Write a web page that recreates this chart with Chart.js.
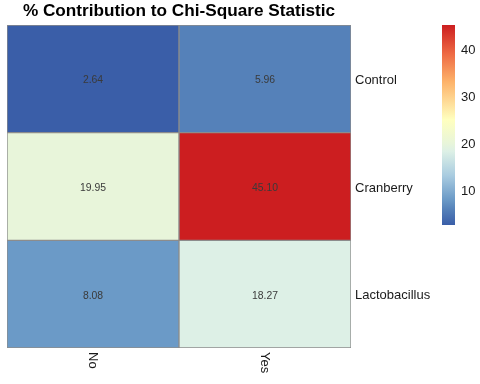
<!DOCTYPE html>
<html><head><meta charset="utf-8">
<script src="https://cdn.jsdelivr.net/npm/chart.js@4/dist/chart.umd.min.js"></script>
<style>html,body{margin:0;padding:0;background:#fff}#wrap{width:480px;height:384px}</style>
</head><body><div id="wrap"><canvas id="c" width="480" height="384"></canvas></div>
<script>
const columns = ['No', 'Yes'];
const rows = ['Control', 'Cranberry', 'Lactobacillus'];
const controlVals = [2.64, 5.96];
const cranberryVals = [19.95, 45.10];
const lactoVals = [8.08, 18.27];
const legendTicks = [10, 20, 30, 40];
const titleText = '% Contribution to Chi-Square Statistic';

const rowVals = [controlVals, cranberryVals, lactoVals];
const allVals = rowVals.flat();
const vMin = Math.min(...allVals), vMax = Math.max(...allVals);

const stops = [
  [0.00, [58, 94, 168]],
  [0.078, [85, 129, 185]],
  [0.128, [107, 154, 199]],
  [0.245, [168, 203, 224]],
  [0.368, [221, 240, 230]],
  [0.408, [232, 245, 218]],
  [0.527, [255, 255, 191]],
  [0.715, [253, 179, 106]],
  [0.856, [238, 106, 68]],
  [1.00, [204, 30, 32]]
];
function colorAt(t) {
  t = Math.max(0, Math.min(1, t));
  for (let i = 1; i < stops.length; i++) {
    if (t <= stops[i][0]) {
      const [t0, c0] = stops[i-1], [t1, c1] = stops[i];
      const f = (t - t0) / (t1 - t0);
      const c = c0.map((v, k) => Math.round(v + (c1[k] - v) * f));
      return `rgb(${c[0]},${c[1]},${c[2]})`;
    }
  }
  const c = stops[stops.length-1][1];
  return `rgb(${c[0]},${c[1]},${c[2]})`;
}
const colorOf = v => colorAt((v - vMin) / (vMax - vMin));

const datasets = rows.map((r, i) => ({
  label: r,
  data: columns.map(() => 1),
  values: rowVals[i],
  backgroundColor: rowVals[i].map(colorOf),
  borderColor: '#8c8c8c',
  borderWidth: 1,
  borderSkipped: false,
  barPercentage: 1,
  categoryPercentage: 1
}));

const FONT = '"Liberation Sans", Arial, sans-serif';

const extras = {
  id: 'extras',
  afterDatasetsDraw(chart) {
    const ctx = chart.ctx;
    ctx.save();
    ctx.font = '10.4px ' + FONT;
    ctx.fillStyle = '#3a3a3a';
    ctx.textAlign = 'center';
    ctx.textBaseline = 'middle';
    chart.data.datasets.forEach((ds, di) => {
      chart.getDatasetMeta(di).data.forEach((bar, j) => {
        const p = bar.getProps(['x', 'y', 'base'], true);
        ctx.fillText(ds.values[j].toFixed(2), p.x, (p.y + p.base) / 2 + 1.5);
      });
    });
    ctx.restore();
  },
  afterDraw(chart) {
    const ctx = chart.ctx, ca = chart.chartArea;
    ctx.save();
    ctx.font = 'bold 17.2px ' + FONT;
    ctx.fillStyle = '#000';
    ctx.textAlign = 'center';
    ctx.textBaseline = 'middle';
    ctx.fillText(titleText, (ca.left + ca.right) / 2, 11);
    ctx.font = '13px ' + FONT;
    ctx.fillStyle = '#1a1a1a';
    const xs = chart.scales.x;
    columns.forEach((c, i) => {
      const x = xs.getPixelForTick(i);
      ctx.save();
      ctx.translate(x, ca.bottom + 4);
      ctx.rotate(Math.PI / 2);
      ctx.textAlign = 'left';
      ctx.textBaseline = 'middle';
      ctx.fillText(c, 0, 0);
      ctx.restore();
    });
    const bx = 442, bw = 13, top = 25, bottom = 225;
    const g = ctx.createLinearGradient(0, bottom, 0, top);
    stops.forEach(s => g.addColorStop(s[0], `rgb(${s[1].join(',')})`));
    ctx.fillStyle = g;
    ctx.fillRect(bx, top, bw, bottom - top);
    const ypx = v => bottom - (v - vMin) / (vMax - vMin) * (bottom - top);
    ctx.font = '13px ' + FONT;
    ctx.fillStyle = '#1a1a1a';
    ctx.textAlign = 'left';
    ctx.textBaseline = 'middle';
    legendTicks.forEach(t => {
      ctx.fillText(String(t), 461, ypx(t) + 1.5);
    });
    ctx.restore();
  }
};

new Chart(document.getElementById('c'), {
  type: 'bar',
  data: { labels: columns, datasets },
  plugins: [extras],
  options: {
    responsive: false,
    animation: false,
    layout: { padding: { left: 7, top: 25, right: 0, bottom: 0 } },
    plugins: { legend: { display: false }, tooltip: { enabled: false }, title: { display: false } },
    scales: {
      x: {
        stacked: true,
        grid: { display: false },
        border: { display: false },
        ticks: { display: false },
        afterFit(s) { s.height = 36; }
      },
      y: {
        stacked: true,
        position: 'right',
        min: 0, max: 3,
        reverse: true,
        grid: { display: false, drawTicks: false },
        border: { display: false },
        afterBuildTicks(s) { s.ticks = rows.map((r, i) => ({ value: i + 0.515 })); },
        ticks: {
          padding: 4,
          color: '#1a1a1a',
          font: { family: FONT, size: 13 },
          callback: (v) => rows[Math.floor(v)]
        },
        afterFit(s) { s.width = 129; }
      }
    }
  }
});
</script></body></html>
